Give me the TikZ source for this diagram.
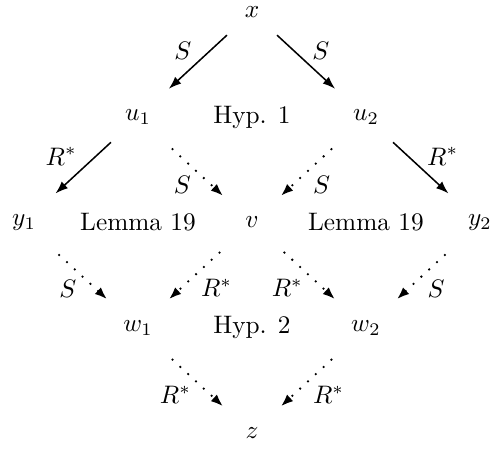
\documentclass[tikz,border=0pt]{standalone}
\usetikzlibrary{arrows.meta}
\begin{document}
\begin{tikzpicture}[x=1.583cm, y=1.462cm,
      titik/.style={inner sep=0pt},
      panah/.style={-{Latex[length=5pt,width=3.6pt]}, semithick, shorten <=10pt, shorten >=12pt},
      putus/.style={panah, line width=1pt, dash pattern=on 0pt off 4.2pt, line cap=round, shorten <=14pt},
      ket/.style={inner sep=1.5pt}]
    \useasboundingbox (-3.5cm,0.167cm) rectangle (3.32cm,-6.07cm);
    \node[titik] (x) at (0,0) {$x$};
    \node[titik] (u1) at (-1,-1) {$u_1$};
    \node[titik] (u2) at (1,-1) {$u_2$};
    \node[titik] (y1) at (-2,-2) {$y_1$};
    \node[titik] (v) at (0,-2) {$v$};
    \node[titik] (y2) at (2,-2) {$y_2$};
    \node[titik] (w1) at (-1,-3) {$w_1$};
    \node[titik] (w2) at (1,-3) {$w_2$};
    \node[titik] (z) at (0,-4) {$z$};
    \node (hyp1) at (0,-1) {Hyp. 1};
    \node (lemkiri) at (-1,-2) {Lemma 19};
    \node (lemkanan) at (1,-2) {Lemma 19};
    \node (hyp2) at (0,-3) {Hyp. 2};
    \draw[panah] (x) -- node[ket, midway, above left] {$S$} (u1);
    \draw[panah] (x) -- node[ket, midway, above right] {$S$} (u2);
    \draw[panah] (u1) -- node[ket, midway, above left] {$R^*$} (y1);
    \draw[panah] (u2) -- node[ket, midway, above right] {$R^*$} (y2);
    \draw[putus] (u1) -- node[ket, midway, below left] {$S$} (v);
    \draw[putus] (u2) -- node[ket, midway, below right] {$S$} (v);
    \draw[putus] (y1) -- node[ket, midway, below left] {$S$} (w1);
    \draw[putus] (v) -- node[ket, midway, below right] {$R^*$} (w1);
    \draw[putus] (v) -- node[ket, midway, below left] {$R^*$} (w2);
    \draw[putus] (y2) -- node[ket, midway, below right] {$S$} (w2);
    \draw[putus] (w1) -- node[ket, midway, below left] {$R^*$} (z);
    \draw[putus] (w2) -- node[ket, midway, below right] {$R^*$} (z);
  \end{tikzpicture}
\end{document}
